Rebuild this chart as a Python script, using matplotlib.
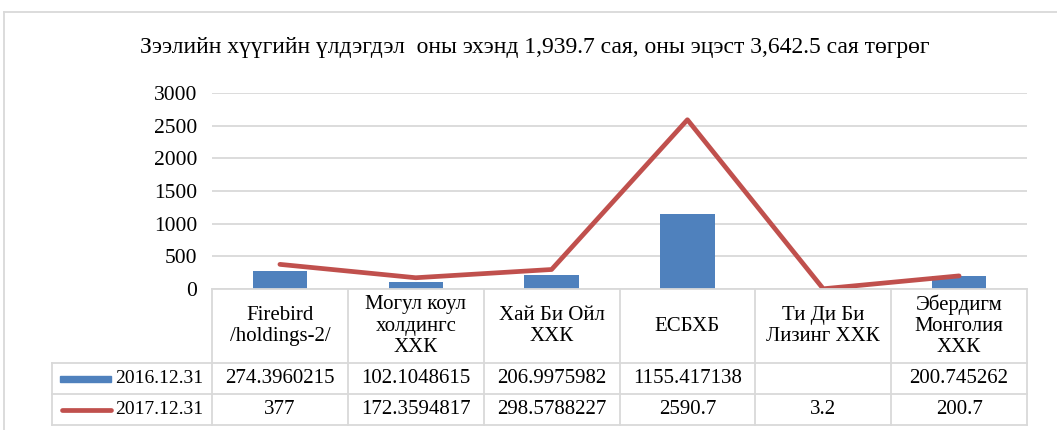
import matplotlib

matplotlib.use("Agg")

import matplotlib.pyplot as plt
import numpy as np
from matplotlib.lines import Line2D
from matplotlib.patches import Rectangle

plt.rcParams["font.family"] = ["Liberation Serif", "DejaVu Serif"]

TITLE = "Зээлийн хүүгийн үлдэгдэл  оны эхэнд 1,939.7 сая, оны эцэст 3,642.5 сая төгрөг"
categories = [
    "Firebird\n/holdings-2/",
    "Могул коул\nхолдингс\nХХК",
    "Хай Би Ойл\nХХК",
    "ЕСБХБ",
    "Ти Ди Би\nЛизинг ХХК",
    "Эбердигм\nМонголия\nХХК",
]
series_names = ["2016.12.31", "2017.12.31"]
balance_2016 = [274.3960215, 102.1048615, 206.9975982, 1155.417138, None, 200.745262]
balance_2017 = [377, 172.3594817, 298.5788227, 2590.7, 3.2, 200.7]
y_ticks = [0, 500, 1000, 1500, 2000, 2500, 3000]

BLUE = "#4F81BD"
RED = "#C0504D"
GRID = "#D9D9D9"
W, H = 1057, 430
FS = 15


def fx(px):
    return px / W


def fy(py):
    return 1 - py / H


fig = plt.figure(figsize=(W / 100, H / 100), dpi=100)

# plot area
ax = fig.add_axes([fx(212), fy(289), fx(1027) - fx(212), fy(93) - fy(289)])
x = np.arange(len(categories))
bars = np.array([np.nan if v is None else v for v in balance_2016], dtype=float)
ax.bar(x, bars, width=0.4, color=BLUE, zorder=2)
ax.plot(x, balance_2017, color=RED, linewidth=3.4, solid_capstyle="round", zorder=3)
ax.set_xlim(-0.5, len(categories) - 0.5)
ax.set_ylim(y_ticks[0], y_ticks[-1])
ax.set_yticks(y_ticks)
ax.set_xticks([])
ax.grid(axis="y", color=GRID, linewidth=1.3, zorder=0)
ax.set_axisbelow(True)
for s in ax.spines.values():
    s.set_visible(False)
ax.tick_params(axis="y", length=0, pad=10.5, labelsize=15.5)

# data table below the plot
col_w = (1027 - 212) / len(categories)
x_left = -0.5 - (212 - 52) / col_w


def xd(px):
    return -0.5 + (px - 212) / col_w


tab = fig.add_axes([fx(52), fy(425), fx(1027) - fx(52), fy(289) - fy(425)])
tab.set_xlim(x_left, len(categories) - 0.5)
tab.set_ylim(425, 289)
tab.axis("off")

line_kw = dict(color=GRID, linewidth=1.3, clip_on=False)
tab.plot([-0.5, len(categories) - 0.5], [289, 289], **line_kw)
for yy in [363, 394, 425]:
    tab.plot([x_left, len(categories) - 0.5], [yy, yy], **line_kw)
for k in range(len(categories) + 1):
    tab.plot([k - 0.5, k - 0.5], [289, 425], **line_kw)
tab.plot([x_left, x_left], [363, 425], **line_kw)

for i, name in enumerate(categories):
    tab.text(i, 326, name, ha="center", va="center", fontsize=FS, linespacing=1.15)

rows = [(378.5, balance_2016), (409.5, balance_2017)]
for yc, values in rows:
    for i, v in enumerate(values):
        txt = "" if v is None else str(v)
        tab.text(i, yc, txt, ha="center", va="center", fontsize=FS)

# legend keys inside the table
tab.add_patch(Rectangle((xd(60), 375.5), xd(111) - xd(60), 6, color=BLUE, clip_on=False))
tab.plot([xd(62), xd(111)], [409.5, 409.5], color=RED, linewidth=3.4,
         solid_capstyle="round", clip_on=False)
tab.text(xd(115), 378.5, series_names[0], ha="left", va="center", fontsize=14)
tab.text(xd(115), 409.5, series_names[1], ha="left", va="center", fontsize=14)

# chart frame and title
fig.add_artist(Line2D([fx(4), fx(4)], [fy(12), 0], color=GRID, linewidth=1.3))
fig.add_artist(Line2D([fx(4), 1], [fy(12), fy(12)], color=GRID, linewidth=1.3))
fig.text(fx(535), fy(47), TITLE, ha="center", va="center", fontsize=17)

fig.savefig("out.png", dpi=100)
